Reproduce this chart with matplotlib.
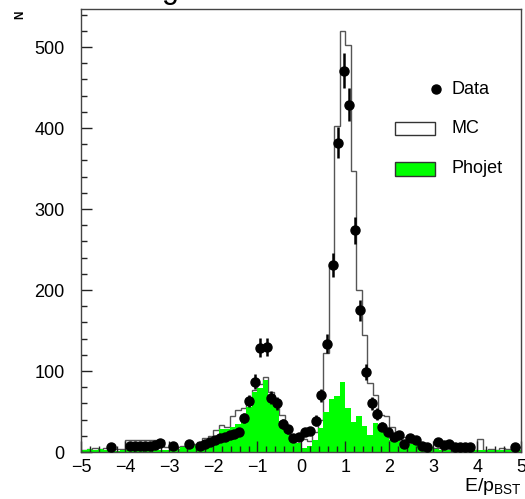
import numpy as np
import matplotlib
matplotlib.use('Agg')
import matplotlib.pyplot as plt
from matplotlib.patches import Rectangle

plt.rcParams['font.family'] = ['Liberation Sans', 'DejaVu Sans']
plt.rcParams['mathtext.fontset'] = 'custom'
plt.rcParams['mathtext.rm'] = 'Liberation Sans'

# 80 bins of 0.125 between -5 and 5
edges = np.linspace(-5, 5, 81)

mc_counts = [3, 4, 5, 4, 5, 6, 4, 4, 15, 15,
             15, 15, 15, 15, 15, 6, 7, 6, 7, 8,
             10, 12, 17, 20, 27, 34, 31, 44, 52, 55,
             62, 77, 84, 93, 74, 66, 46, 28, 21, 21,
             16, 14, 25, 40, 122, 231, 402, 520, 502, 347,
             200, 144, 85, 70, 46, 44, 31, 25, 19, 12,
             11, 9, 6, 6, 5, 5, 5, 4, 4, 4,
             4, 3, 16, 3, 4, 3, 5, 4, 4, 6]

phojet_counts = [3, 4, 2, 4, 2, 1, 1, 2, 2, 2,
                 2, 2, 2, 2, 2, 3, 4, 4, 6, 7,
                 9, 11, 13, 18, 19, 29, 28, 31, 35, 46,
                 56, 74, 79, 89, 70, 62, 39, 23, 16, 11,
                 5, 7, 15, 30, 50, 66, 69, 86, 55, 37,
                 44, 32, 21, 36, 29, 21, 15, 15, 12, 10,
                 10, 7, 7, 6, 4, 3, 3, 2, 2, 3,
                 2, 2, 3, 2, 2, 3, 2, 2, 3, 3]

data_x = [-4.325, -3.898, -3.784, -3.670, -3.557, -3.443, -3.330, -3.216,
          -2.927, -2.561, -2.307, -2.193, -2.080, -1.966, -1.852, -1.739,
          -1.625, -1.523, -1.420, -1.307, -1.186, -1.050, -0.939, -0.789,
          -0.682, -0.550, -0.427, -0.300, -0.186, -0.050, 0.080, 0.193,
          0.336, 0.443, 0.573, 0.709, 0.836, 0.959, 1.080, 1.223,
          1.341, 1.466, 1.595, 1.716, 1.841, 1.973, 2.102, 2.227,
          2.341, 2.473, 2.602, 2.732, 2.859, 3.109, 3.234, 3.357,
          3.489, 3.602, 3.716, 3.841, 4.852]
data_y = [6, 7, 7, 7, 7.5, 8, 9, 11,
          7, 10, 8, 9.5, 12, 15, 17, 19,
          21, 22, 25, 42, 63, 87, 129, 130,
          67, 60, 35, 28, 18, 19, 25, 26,
          39, 70, 134, 231, 382, 471, 429, 274,
          175, 99, 60, 47, 31, 24.5, 19, 20.5,
          10, 17, 15, 8, 6.6, 12, 8.6, 10,
          6.6, 6.6, 6.6, 6.6, 6.6]

fig = plt.figure(figsize=(5.25, 4.99), dpi=100)
ax = fig.add_axes([0.155, 0.094, 0.838, 0.888])

ax.stairs(mc_counts, edges, fill=True, facecolor='white', edgecolor='#555555',
          linewidth=1.0, zorder=1)
ax.stairs(phojet_counts, edges, fill=True, facecolor='#00ff00', edgecolor='none',
          linewidth=0, zorder=1.2)
ax.errorbar(data_x, data_y, yerr=np.sqrt(data_y), fmt='o', color='black',
            ms=6.5, elinewidth=1.8, capsize=0, zorder=3)

ax.set_xlim(-5, 5)
ax.set_ylim(0, 547)
ax.set_xticks(np.arange(-5, 6, 1))
ax.set_xticks(np.arange(-5, 5.01, 0.2), minor=True)
ax.set_yticks(np.arange(0, 501, 100))
ax.set_yticks(np.arange(0, 541, 20), minor=True)
ax.tick_params(which='both', direction='in', colors='#222222', width=1.0,
               labelsize=13, labelcolor='black')
ax.tick_params(which='major', length=8)
ax.tick_params(which='minor', length=4.3)
ax.tick_params(axis='x', pad=5)
ax.tick_params(axis='y', pad=12)
for s in ax.spines.values():
    s.set_color('#444444')
    s.set_linewidth(1.0)

# legend
ax.plot([0.806], [0.819], 'o', color='black', ms=6.5, transform=ax.transAxes,
        clip_on=False)
ax.text(0.842, 0.819, 'Data', transform=ax.transAxes, va='center', fontsize=13)
ax.add_patch(Rectangle((0.7125, 0.7156), 0.091, 0.0284, transform=ax.transAxes,
                       facecolor='white', edgecolor='#333333', linewidth=1.0))
ax.text(0.842, 0.730, 'MC', transform=ax.transAxes, va='center', fontsize=13)
ax.add_patch(Rectangle((0.7125, 0.6237), 0.091, 0.0303, transform=ax.transAxes,
                       facecolor='#00ff00', edgecolor='#333333', linewidth=1.0))
ax.text(0.842, 0.639, 'Phojet', transform=ax.transAxes, va='center', fontsize=13)

fig.text(0.038, 0.97, 'N', rotation=90, ha='center', va='center', fontsize=8.5,
         fontweight='bold')
fig.text(0.994, 0.004, r'E/p$_{\mathregular{BST}}$', ha='right', va='bottom',
         fontsize=14)
fig.text(0.324, 1.0048, 'g', ha='center', va='baseline', fontsize=22)

fig.savefig('out.png', dpi=100)
